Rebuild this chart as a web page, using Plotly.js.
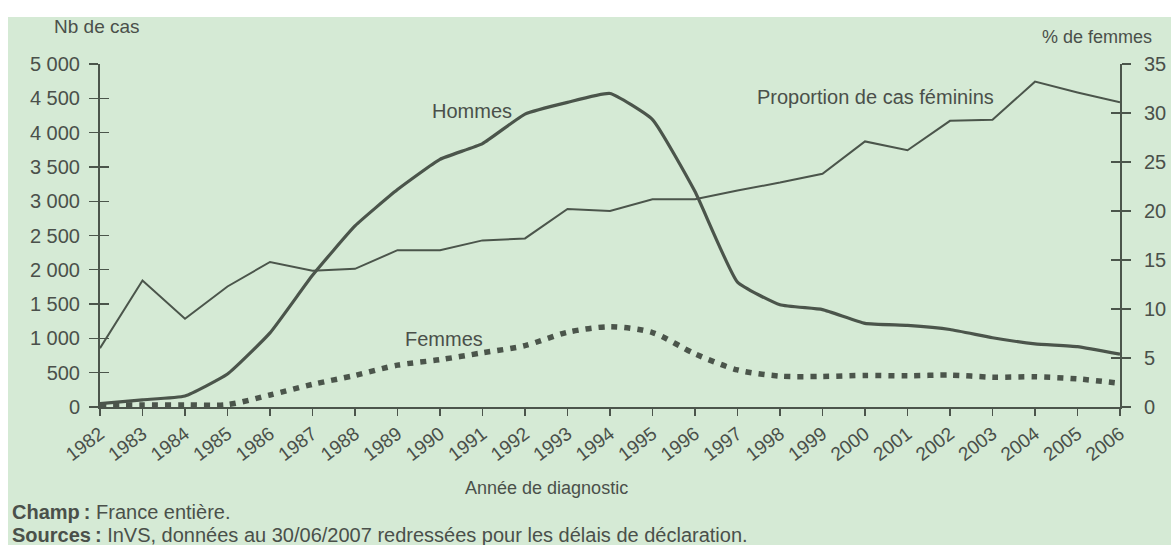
<!DOCTYPE html>
<html>
<head>
<meta charset="utf-8">
<script src="https://cdn.plot.ly/plotly-3.0.1.min.js"></script>
<style>
  html, body { margin: 0; padding: 0; background: #ffffff; width: 1171px; height: 545px; overflow: hidden; }
  #chart { position: absolute; left: 8px; top: 17px; width: 1163px; height: 528px; }
</style>
</head>
<body>
<div id="chart"></div>
<script>
// ---- Data ----
const years = [1982,1983,1984,1985,1986,1987,1988,1989,1990,1991,1992,1993,1994,1995,1996,1997,1998,1999,2000,2001,2002,2003,2004,2005,2006];
const yearLabels = years.map(String);
const hommes = [50,105,160,480,1080,1920,2640,3170,3610,3840,4270,4440,4570,4190,3140,1820,1490,1420,1220,1190,1130,1010,920,880,770];
const femmes = [30,30,30,35,175,330,460,610,690,790,895,1090,1170,1085,775,540,450,445,460,455,465,435,440,410,345];
const proportion = [6.0,12.9,9.0,12.3,14.8,13.9,14.1,16.0,16.0,17.0,17.2,20.2,20.0,21.2,21.2,22.1,22.9,23.8,27.1,26.2,29.2,29.3,33.2,32.1,31.1];
const leftTickVals = [0,500,1000,1500,2000,2500,3000,3500,4000,4500,5000];
const leftTickText = ["0","500","1 000","1 500","2 000","2 500","3 000","3 500","4 000","4 500","5 000"];
const rightTickVals = [0,5,10,15,20,25,30,35];
const rightTickText = ["0","5","10","15","20","25","30","35"];

// ---- Layout helpers (page pixel -> paper coords) ----
const DIV_L = 8, DIV_T = 17;
const PL = 100, PR = 1120, PT = 64, PB = 407;
const px = X => (X - PL) / (PR - PL);
const py = Y => (PB - Y) / (PB - PT);

const lineCol = '#4b554b';
const textCol = '#4a504a';
const font = 'Liberation Sans, Arial, sans-serif';

const traces = [
  { x: years, y: proportion, yaxis: 'y2', mode: 'lines', name: 'Proportion de cas féminins',
    line: { color: lineCol, width: 2 }, hoverinfo: 'skip' },
  { x: years, y: hommes, mode: 'lines', name: 'Hommes',
    line: { color: lineCol, width: 3.2, shape: 'spline', smoothing: 0.4 }, hoverinfo: 'skip' },
  { x: years, y: femmes, mode: 'lines', name: 'Femmes',
    line: { color: lineCol, width: 5.5, dash: '6px,7px', shape: 'spline', smoothing: 0.8 }, hoverinfo: 'skip' },
  { x: [], y: [], yaxis: 'y3', mode: 'lines', showlegend: false, hoverinfo: 'skip' },
  { x: [], y: [], yaxis: 'y4', mode: 'lines', showlegend: false, hoverinfo: 'skip' }
];

const ann = (text, X, Y, xanchor, size, extra) => Object.assign({
  text, xref: 'paper', yref: 'paper', x: px(X), y: py(Y), xanchor, yanchor: 'middle',
  showarrow: false, font: { family: font, size: size, color: textCol }
}, extra || {});

const layout = {
  width: 1163, height: 528,
  margin: { l: PL - DIV_L, r: 1163 - (PR - DIV_L), t: PT - DIV_T, b: 528 - (PB - DIV_T), pad: 0 },
  paper_bgcolor: '#d5ead5',
  plot_bgcolor: 'rgba(0,0,0,0)',
  showlegend: false,
  font: { family: font, color: textCol },
  xaxis: {
    range: [1982, 2006], tickmode: 'array', tickvals: years, ticktext: yearLabels,
    tickangle: -37, ticks: 'outside', ticklen: 7, tickcolor: lineCol, tickwidth: 1.3,
    showline: true, linecolor: lineCol, linewidth: 1.5, showgrid: false, zeroline: false,
    tickfont: { family: font, size: 19, color: textCol }, fixedrange: true
  },
  yaxis: {
    range: [0, 5000], tickmode: 'array', tickvals: leftTickVals, ticktext: leftTickText,
    ticks: 'outside', ticklen: 9, tickcolor: lineCol, tickwidth: 1.3, ticklabelstandoff: 5,
    showline: true, linecolor: lineCol, linewidth: 2, showgrid: false, zeroline: false,
    tickfont: { family: font, size: 20, color: textCol }, fixedrange: true
  },
  yaxis3: {
    overlaying: 'y', side: 'left', range: [0, 5000], tickmode: 'array', tickvals: leftTickVals,
    ticks: 'inside', ticklen: 9, tickcolor: lineCol, tickwidth: 1.3, showticklabels: false,
    showline: false, showgrid: false, zeroline: false, fixedrange: true
  },
  yaxis2: {
    overlaying: 'y', side: 'right', range: [0, 35], tickmode: 'array', tickvals: rightTickVals, ticktext: rightTickText,
    ticks: 'outside', ticklen: 9, tickcolor: lineCol, tickwidth: 1.3, ticklabelstandoff: 9,
    showline: true, linecolor: lineCol, linewidth: 2, showgrid: false, zeroline: false,
    tickfont: { family: font, size: 20, color: textCol }, fixedrange: true
  },
  yaxis4: {
    overlaying: 'y', side: 'right', range: [0, 35], tickmode: 'array', tickvals: rightTickVals,
    ticks: 'inside', ticklen: 9, tickcolor: lineCol, tickwidth: 1.3, showticklabels: false,
    showline: false, showgrid: false, zeroline: false, fixedrange: true
  },
  annotations: [
    ann('Nb de cas', 52, 27, 'left', 19),
    ann('% de femmes', 1040, 37, 'left', 18),
    ann('Hommes', 430, 111, 'left', 20),
    ann('Proportion de cas féminins', 755, 97, 'left', 20),
    ann('Femmes', 403, 339, 'left', 20),
    ann('Année de diagnostic', 546, 488, 'center', 18),
    ann('<b>Champ\u202f:</b> France entière.', 10, 512, 'left', 20),
    ann('<b>Sources\u202f:</b> InVS, données au 30/06/2007 redressées pour les délais de déclaration.', 10, 535, 'left', 20)
  ]
};

Plotly.newPlot('chart', traces, layout, { displayModeBar: false, staticPlot: true });
</script>
</body>
</html>
